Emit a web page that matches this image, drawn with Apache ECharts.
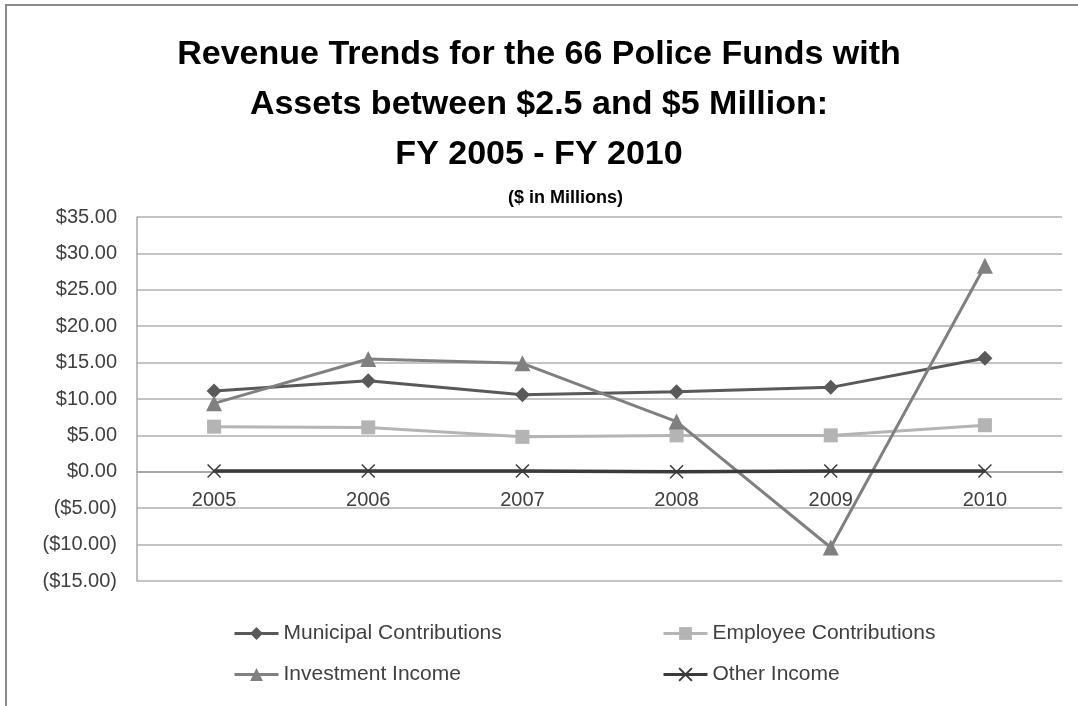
<!DOCTYPE html>
<html>
<head>
<meta charset="utf-8">
<script src="https://cdn.jsdelivr.net/npm/echarts@6/dist/echarts.min.js"></script>
<style>
html,body{margin:0;padding:0;background:#fff;}
#chart{width:1078px;height:706px;}
</style>
</head>
<body>
<div id="chart"></div>
<script>
const years = ['2005','2006','2007','2008','2009','2010'];
const municipal = [11.1, 12.5, 10.6, 11.0, 11.6, 15.6];
const employee = [6.2, 6.1, 4.8, 5.0, 5.0, 6.4];
const investment = [9.4, 15.5, 14.9, 6.9, -10.4, 28.3];
const other = [0.1, 0.1, 0.1, 0.0, 0.1, 0.1];
const seriesNames = ['Municipal Contributions','Employee Contributions','Investment Income','Other Income'];
const titleText = 'Revenue Trends for the 66 Police Funds with\nAssets between $2.5 and $5 Million:\nFY 2005 - FY 2010';
const subtitleText = '($ in Millions)';

const FONT = '"Liberation Sans", Arial, sans-serif';
const TXT = '#404040';
const chart = echarts.init(document.getElementById('chart'));

function fmt(v){
  return v < 0 ? '($' + (-v).toFixed(2) + ')' : '$' + v.toFixed(2);
}
const xPath = 'path://M0,0L10,10M10,0L0,10';
const Y_MIN = -15, Y_MAX = 35;
const GRID_TOP = 217, GRID_BOTTOM = 125, CHART_H = 706;
const plotH = CHART_H - GRID_TOP - GRID_BOTTOM;
// move category axis up to the zero line
const zeroOffset = -plotH * (0 - Y_MIN) / (Y_MAX - Y_MIN);

chart.setOption({
  animation:false,
  backgroundColor:'#fff',
  graphic:[{
    type:'rect', shape:{x:6, y:5, width:1100, height:720},
    style:{fill:'none', stroke:'#8a8a8a', lineWidth:2}, silent:true
  }],
  title:[{
    text:titleText, left:'center', top:25,
    textStyle:{fontFamily:FONT, fontWeight:'bold', fontSize:34, lineHeight:50, color:'#000'}
  },{
    text:subtitleText, left:503, top:184,
    textStyle:{fontFamily:FONT, fontWeight:'bold', fontSize:18, color:'#000'}
  }],
  legend:[
    {data:[seriesNames[0]], left:233, top:623},
    {data:[seriesNames[1]], left:662, top:623},
    {data:[seriesNames[2]], left:233, top:664},
    {data:[seriesNames[3]], left:662, top:664}
  ].map(l => Object.assign(l, {
    itemWidth:44, itemHeight:16, itemGap:0, padding:0,
    lineStyle:{width:3},
    textStyle:{fontFamily:FONT, fontSize:21, color:TXT}
  })),
  grid:{left:137, right:16, top:GRID_TOP, bottom:GRID_BOTTOM, containLabel:false},
  xAxis:{
    type:'category', data:years, boundaryGap:true,
    offset:zeroOffset,
    axisLine:{onZero:false, lineStyle:{color:'#a0a0a0', width:1.5}},
    axisTick:{show:false},
    axisLabel:{fontFamily:FONT, fontSize:20, color:TXT, margin:19}
  },
  yAxis:{
    type:'value', min:Y_MIN, max:Y_MAX, interval:5,
    axisLine:{show:true, lineStyle:{color:'#a8a8a8', width:1.5}},
    axisTick:{show:false},
    splitLine:{lineStyle:{color:'#c4c4c4', width:1.8}},
    axisLabel:{fontFamily:FONT, fontSize:20, color:TXT, margin:20, formatter:fmt}
  },
  series:[
    {name:seriesNames[0], type:'line', data:municipal, symbol:'diamond', symbolSize:15,
     lineStyle:{color:'#595959', width:3}, itemStyle:{color:'#595959'}},
    {name:seriesNames[1], type:'line', data:employee, symbol:'rect', symbolSize:14,
     lineStyle:{color:'#b4b4b4', width:3}, itemStyle:{color:'#b4b4b4'}},
    {name:seriesNames[2], type:'line', data:investment, symbol:'triangle', symbolSize:16,
     lineStyle:{color:'#808080', width:3}, itemStyle:{color:'#808080'}},
    {name:seriesNames[3], type:'line', data:other, symbol:xPath, symbolSize:13,
     lineStyle:{color:'#3a3a3a', width:3.5},
     itemStyle:{color:'#3a3a3a', borderColor:'#3a3a3a', borderWidth:1.5}}
  ]
});
</script>
</body>
</html>
